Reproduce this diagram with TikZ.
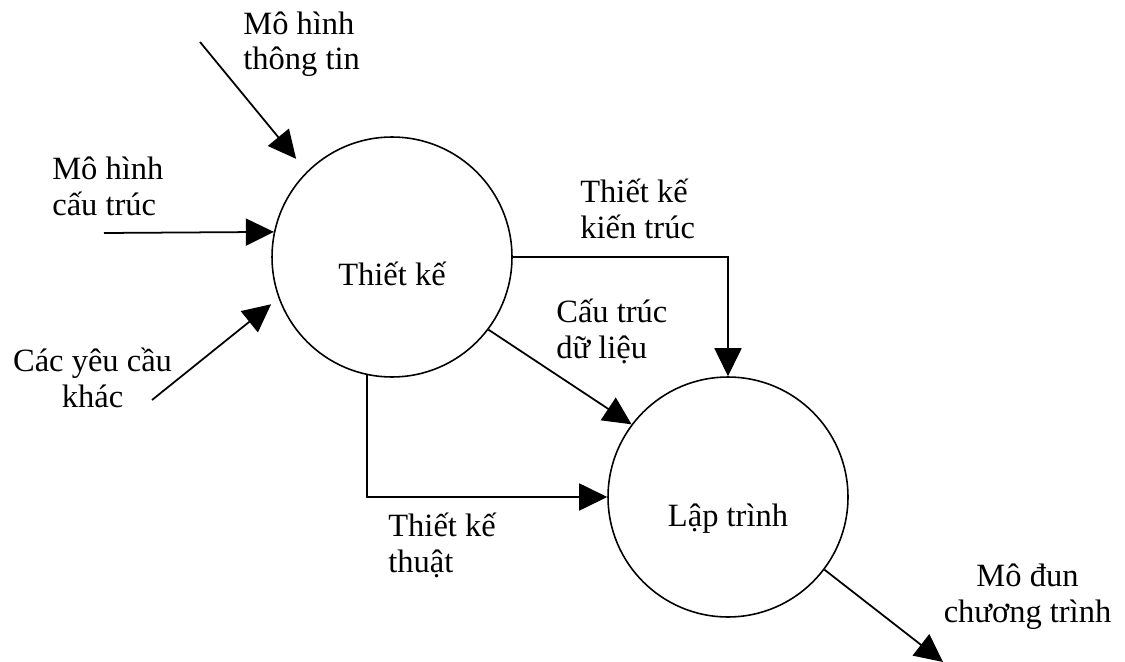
\documentclass[tikz,border=0pt]{standalone}
\usepackage{fontspec}
\setmainfont{Liberation Serif}
\usetikzlibrary{arrows.meta}
\tikzset{
    qt/.style={draw, circle, line width=0.9pt, minimum size=4.8cm, inner sep=0pt},
    arr/.style={line width=1pt, -{Triangle[length=0.56cm, width=0.54cm]}},
    lbl/.style={inner sep=0pt, font=\fontsize{18.5}{20.4}\selectfont}
}
\begin{document}
\begin{tikzpicture}[x=0.02cm, y=-0.02cm]
        \useasboundingbox (0,0) rectangle (1125,662);

        % 绘制两个过程
        \node[qt] (tk) at (392,257) {};
        \node[qt] (lt) at (728,497) {};
        \node[lbl, anchor=base] (tkt) at ([yshift=-0.58cm]tk.center) {Thiết kế};
        \node[lbl, anchor=base] (ltt) at ([yshift=-0.6cm]lt.center) {Lập trình};

        % 输入端点
        \coordinate (intt) at (200,42);
        \coordinate (inct) at (104,233);
        \coordinate (inyc) at (152,400);
        \coordinate (outmd) at (943,662);

        % 绘制箭头
        \draw[arr, shorten >=0.33cm] (intt) -- (tk.135.5);
        \draw[arr] (inct) -- (tk.168.5);
        \draw[arr, shorten >=0.19cm] (inyc) -- (tk.200.5);
        \draw[arr] (tk.east) -| (lt.north);
        \draw[arr] (tk.-37) -- (lt.143);
        \draw[arr] (tk.258.5) |- (lt.west);
        \draw[arr] (lt.-37) -- (outmd);

        % 添加标签 (基线为第二行)
        \node[lbl, anchor=base west, align=left] (mhtt) at (243,70) {Mô hình\\thông tin};
        \node[lbl, anchor=base west, align=left] (mhct) at (52,215) {Mô hình\\cấu trúc};
        \node[lbl, anchor=base, align=center] (ycac) at (92.5,407) {Các yêu cầu\\khác};
        \node[lbl, anchor=base west, align=left] (tkkt) at (580,238) {Thiết kế\\kiến trúc};
        \node[lbl, anchor=base west, align=left] (ctdl) at (556,358) {Cấu trúc\\dữ liệu};
        \node[lbl, anchor=base west, align=left] (tkth) at (388,572) {Thiết kế\\thuật};
        \node[lbl, anchor=base, align=center] (modun) at (1027.5,622) {Mô đun\\chương trình};
    \end{tikzpicture}
\end{document}
